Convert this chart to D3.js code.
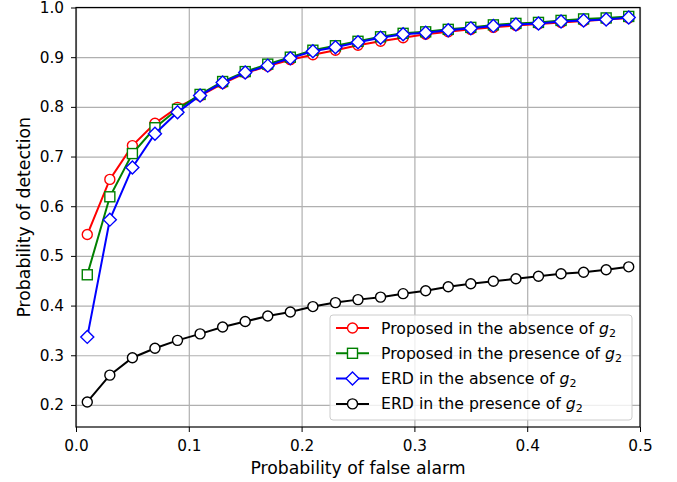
<!DOCTYPE html>
<html lang="en">
<head>
  <meta charset="UTF-8">
  <title>Detection vs false alarm</title>
  <style>
    body { margin: 0; background: #fff; }
    svg text { font-family: "DejaVu Sans", sans-serif; }
    .grid line { stroke: #b0b0b0; stroke-width: 1.2; }
    .grid path { display: none; }
  </style>
</head>
<body>
  <svg id="chart" width="677" height="482"></svg>

  <script src="https://d3js.org/d3.v7.min.js"></script>
  <script>
    // data
    const pfa = [0.01, 0.03, 0.05, 0.07, 0.09, 0.11, 0.13, 0.15, 0.17, 0.19, 0.21, 0.23, 0.25,
                 0.27, 0.29, 0.31, 0.33, 0.35, 0.37, 0.39, 0.41, 0.43, 0.45, 0.47, 0.49];

    const proposedAbsent = [0.543, 0.654, 0.722, 0.767, 0.799, 0.822, 0.847, 0.868, 0.882, 0.895,
                            0.905, 0.914, 0.924, 0.932, 0.939, 0.946, 0.951, 0.956, 0.960, 0.964,
                            0.967, 0.970, 0.973, 0.976, 0.979];
    const proposedPresent = [0.462, 0.619, 0.706, 0.758, 0.795, 0.825, 0.851, 0.871, 0.886, 0.900,
                             0.914, 0.923, 0.932, 0.941, 0.948, 0.951, 0.956, 0.960, 0.965, 0.968,
                             0.970, 0.974, 0.977, 0.979, 0.982];
    const erdAbsent = [0.337, 0.573, 0.678, 0.746, 0.789, 0.823, 0.849, 0.869, 0.883, 0.898,
                       0.912, 0.920, 0.930, 0.939, 0.946, 0.949, 0.954, 0.958, 0.963, 0.966,
                       0.968, 0.972, 0.974, 0.976, 0.980];
    const erdPresent = [0.206, 0.260, 0.295, 0.314, 0.330, 0.343, 0.357, 0.368, 0.379, 0.387,
                        0.398, 0.406, 0.412, 0.417, 0.424, 0.430, 0.438, 0.444, 0.449, 0.454,
                        0.459, 0.464, 0.467, 0.472, 0.478];

    const xTicks = [0, 0.1, 0.2, 0.3, 0.4, 0.5];
    const yTicks = [0.2, 0.3, 0.4, 0.5, 0.6, 0.7, 0.8, 0.9, 1.0];

    const series = [
      { name: "Proposed in the absence of ", values: proposedAbsent, color: "red", marker: "circle" },
      { name: "Proposed in the presence of ", values: proposedPresent, color: "green", marker: "square" },
      { name: "ERD in the absence of ", values: erdAbsent, color: "blue", marker: "diamond" },
      { name: "ERD in the presence of ", values: erdPresent, color: "black", marker: "circle" }
    ];

    const plotL = 76, plotR = 640, plotT = 7.5, plotB = 427;
    const svg = d3.select("#chart");

    const x = d3.scaleLinear().domain([0, 0.5]).range([plotL, plotR]);
    const y = d3.scaleLinear().domain([0.1556, 1.0]).range([plotB, plotT]);

    // grid
    svg.append("g").attr("class", "grid")
      .attr("transform", `translate(0,${plotB})`)
      .call(d3.axisBottom(x).tickValues(xTicks).tickSize(-(plotB - plotT)).tickFormat(""));
    svg.append("g").attr("class", "grid")
      .attr("transform", `translate(${plotL},0)`)
      .call(d3.axisLeft(y).tickValues(yTicks).tickSize(-(plotR - plotL)).tickFormat(""));

    // axes
    const xAxis = svg.append("g")
      .attr("transform", `translate(0,${plotB})`)
      .call(d3.axisBottom(x).tickValues(xTicks).tickSize(5).tickPadding(8).tickFormat(d3.format(".1f")));
    const yAxis = svg.append("g")
      .attr("transform", `translate(${plotL},0)`)
      .call(d3.axisLeft(y).tickValues(yTicks).tickSize(5).tickPadding(7).tickFormat(d3.format(".1f")));
    [xAxis, yAxis].forEach(a => {
      a.selectAll("text").attr("font-size", 15.3).attr("fill", "#000")
        .attr("font-family", "DejaVu Sans, sans-serif");
      a.selectAll("line").attr("stroke", "#000").attr("stroke-width", 1);
      a.select(".domain").remove();
    });

    svg.append("rect")
      .attr("x", plotL).attr("y", plotT)
      .attr("width", plotR - plotL).attr("height", plotB - plotT)
      .attr("fill", "none").attr("stroke", "#000").attr("stroke-width", 1.2);

    svg.append("text")
      .attr("x", (plotL + plotR) / 2).attr("y", 474)
      .attr("text-anchor", "middle").attr("font-size", 17.3)
      .text("Probability of false alarm");
    svg.append("text")
      .attr("transform", `translate(30,${(plotT + plotB) / 2}) rotate(-90)`)
      .attr("text-anchor", "middle").attr("font-size", 17.3)
      .text("Probability of detection");

    function drawMarker(g, type, color, cx, cy) {
      if (type === "circle") {
        g.append("circle").attr("cx", cx).attr("cy", cy).attr("r", 5)
          .attr("fill", "#fff").attr("stroke", color).attr("stroke-width", 1.4);
      } else if (type === "square") {
        g.append("rect").attr("x", cx - 5).attr("y", cy - 5).attr("width", 10).attr("height", 10)
          .attr("fill", "#fff").attr("stroke", color).attr("stroke-width", 1.4);
      } else {
        g.append("path").attr("d", `M${cx},${cy - 6.5}L${cx + 6.5},${cy}L${cx},${cy + 6.5}L${cx - 6.5},${cy}Z`)
          .attr("fill", "#fff").attr("stroke", color).attr("stroke-width", 1.4);
      }
    }

    const line = d3.line().x((d, i) => x(pfa[i])).y(d => y(d));

    series.forEach(s => {
      const g = svg.append("g");
      g.append("path").datum(s.values)
        .attr("d", line).attr("fill", "none")
        .attr("stroke", s.color).attr("stroke-width", 2);
      s.values.forEach((v, i) => drawMarker(g, s.marker, s.color, x(pfa[i]), y(v)));
    });

    // legend
    const lg = svg.append("g");
    lg.append("rect")
      .attr("x", 330).attr("y", 315).attr("width", 302).attr("height", 105)
      .attr("rx", 3).attr("fill", "#fff").attr("fill-opacity", 0.8)
      .attr("stroke", "#ccc").attr("stroke-width", 1);
    series.forEach((s, i) => {
      const ry = 328 + i * 25.3;
      lg.append("line").attr("x1", 336).attr("x2", 369).attr("y1", ry).attr("y2", ry)
        .attr("stroke", s.color).attr("stroke-width", 2);
      drawMarker(lg, s.marker, s.color, 352.5, ry);
      const t = lg.append("text").attr("x", 381).attr("y", ry + 5.5).attr("font-size", 15.7);
      t.append("tspan").text(s.name);
      t.append("tspan").attr("font-style", "italic").text("g");
      t.append("tspan").attr("font-size", 11).attr("dy", 3).text("2");
    });
  </script>
</body>
</html>
